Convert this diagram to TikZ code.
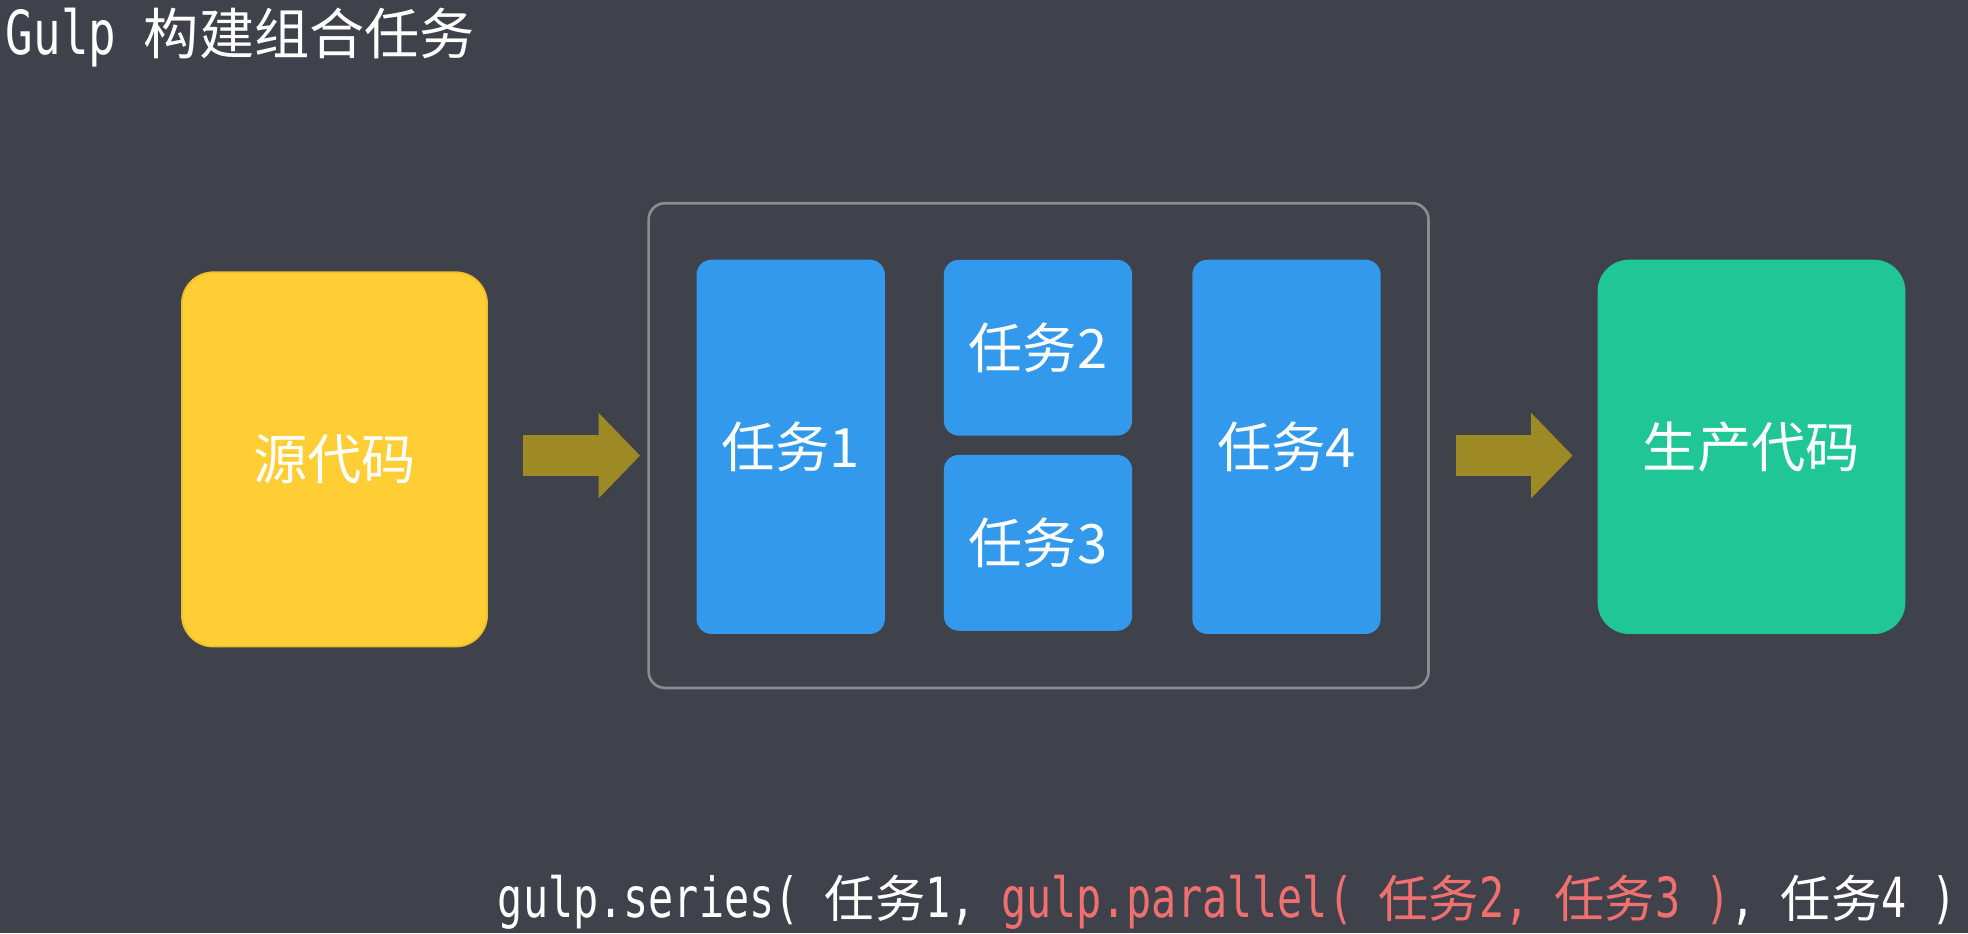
\documentclass[tikz,border=0pt]{standalone}
\usepackage{fontspec}
\setmainfont{Noto Sans CJK SC}
\newfontfamily\cjkfont{Noto Sans CJK SC}
\newfontfamily\codefont{DejaVu Sans Mono}[Scale=1.1,FakeStretch=0.755]
\usetikzlibrary{arrows.meta}
\definecolor{bgdark}{RGB}{64,66,75}
\definecolor{srcyellow}{RGB}{255,205,52}
\definecolor{srcedge}{RGB}{240,190,40}
\definecolor{taskblue}{RGB}{51,153,236}
\definecolor{outgreen}{RGB}{32,198,150}
\definecolor{arrowolive}{RGB}{158,138,36}
\definecolor{framegray}{RGB}{140,140,142}
\definecolor{codered}{RGB}{240,112,112}
\newcommand{\zh}[1]{{\cjkfont #1}}
\tikzset{
  box/.style={
    rectangle,
    inner sep=0pt,
    text=white,
    font=\fontsize{12.3}{14}\selectfont
  },
  srcbox/.style={
    box,
    fill=srcyellow,
    draw=srcedge,
    line width=0.4pt,
    rounded corners=0.25cm,
    minimum width=2.43cm,
    minimum height=2.98cm
  },
  outbox/.style={
    box,
    fill=outgreen,
    rounded corners=0.25cm,
    minimum width=2.45cm,
    minimum height=2.98cm
  },
  taskbox/.style={
    box,
    fill=taskblue,
    rounded corners=0.12cm,
    minimum width=1.5cm,
    minimum height=2.98cm
  },
  taskbox-half/.style={
    taskbox,
    minimum height=1.4cm
  },
  groupframe/.style={
    rectangle,
    draw=framegray,
    line width=0.6pt,
    rounded corners=0.13cm,
    minimum width=6.21cm,
    minimum height=3.86cm
  },
  blockarrow/.style={
    draw=arrowolive,
    line width=0.33cm,
    -{Triangle[length=0.33cm,width=0.66cm,fill=arrowolive]}
  },
  caption/.style={
    inner sep=0pt,
    text=white,
    font=\fontsize{11.4}{13}\selectfont
  }
}

\begin{document}
\begin{tikzpicture}[x=0.01cm,y=-0.01cm]
  \useasboundingbox (0,0) rectangle (1568,743.4);
  \fill[bgdark] (0,0) rectangle (1568,743.4);
  % Title
  \node[caption, anchor=west, font=\fontsize{12.5}{14}\selectfont] (title) at (4,30)
    {{\codefont Gulp\ }\zh{构建组合任务}};
  % Source and output
  \node[srcbox] (src) at (266.5,366) {源代码};
  \node[outbox] (out) at (1395.5,356) {生产代码};
  % Composite task group
  \node[groupframe] (group) at (827.5,355) {};
  \node[taskbox] (task1) at (630,356) {任务1};
  \node[taskbox-half] (task2) at (827,277) {任务2};
  \node[taskbox-half] (task3) at (827,432.5) {任务3};
  \node[taskbox] (task4) at (1025,356) {任务4};
  % Flow arrows
  \coordinate (arrowin-start) at (417,363);
  \coordinate (arrowin-end) at (510,363);
  \coordinate (arrowout-start) at (1160,363);
  \coordinate (arrowout-end) at (1253,363);
  \draw[blockarrow] (arrowin-start) -- (arrowin-end);
  \draw[blockarrow] (arrowout-start) -- (arrowout-end);
  % Code line
  \node[caption, anchor=base east] (code) at (1560,731)
    {{\codefont gulp.series(\ \zh{任务}1,\ \textcolor{codered}{gulp.parallel(\ \zh{任务}2,\ \zh{任务}3\ )},\ \zh{任务}4\ )}};
\end{tikzpicture}
\end{document}
